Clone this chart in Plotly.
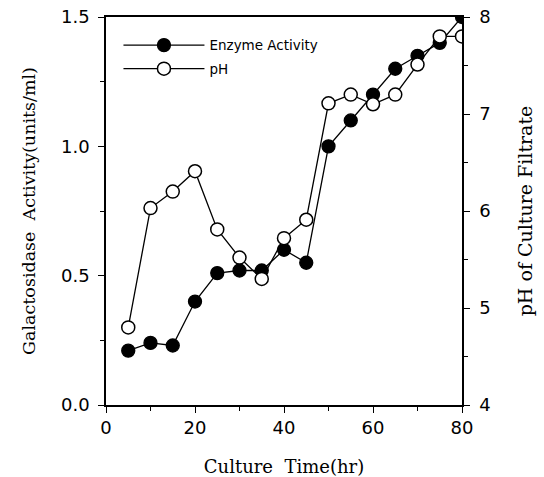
import plotly.graph_objects as go

time_hr = [5, 10, 15, 20, 25, 30, 35, 40, 45, 50, 55, 60, 65, 70, 75, 80]
enzyme_activity = [0.21, 0.24, 0.23, 0.40, 0.51, 0.52, 0.52, 0.60, 0.55, 1.00, 1.10, 1.20, 1.30, 1.35, 1.40, 1.50]
ph_values = [4.8, 6.03, 6.2, 6.41, 5.81, 5.52, 5.3, 5.72, 5.91, 7.11, 7.2, 7.1, 7.2, 7.51, 7.8, 7.8]

x_ticks = [0, 20, 40, 60, 80]
y_ticks = [0, 0.5, 1.0, 1.5]
y_tick_text = ["0.0", "0.5", "1.0", "1.5"]
ph_ticks = [4, 5, 6, 7, 8]

tick_font = dict(family="DejaVu Sans, sans-serif", size=18, color="black")
serif = "DejaVu Serif, serif"

fig = go.Figure()
fig.add_trace(go.Scatter(
    x=time_hr, y=enzyme_activity, name="Enzyme Activity", mode="lines+markers",
    legendgroup="a",
    line=dict(color="black", width=1.3),
    marker=dict(symbol="circle", size=13, color="black", line=dict(color="black", width=1.3)),
))
fig.add_trace(go.Scatter(
    x=time_hr, y=ph_values, name="pH", mode="lines+markers", yaxis="y2",
    legendgroup="b",
    line=dict(color="black", width=1.3),
    marker=dict(symbol="circle", size=13, color="white", line=dict(color="black", width=1.5)),
))

fig.update_layout(
    width=544, height=477,
    margin=dict(l=106, r=82, t=17, b=72),
    paper_bgcolor="white", plot_bgcolor="white",
    showlegend=True,
    legend=dict(x=0.035, y=0.967, xanchor="left", yanchor="top",
                bgcolor="rgba(0,0,0,0)", itemwidth=81,
                font=dict(family="DejaVu Sans, sans-serif", size=13.5, color="black"),
                tracegroupgap=3),
    xaxis=dict(range=[0, 80], tickvals=x_ticks, ticks="outside", ticklen=6,
               tickwidth=1.2, tickcolor="black", showline=True, linecolor="black", linewidth=1.5,
               mirror=True, showgrid=False, zeroline=False, tickfont=tick_font, automargin=False,
               minor=dict(tickvals=[10, 30, 50, 70], ticks="outside", ticklen=4, tickcolor="black"),
               title=dict(text="Culture  Time(hr)", font=dict(family=serif, size=18, color="black"),
                          standoff=23)),
    yaxis=dict(range=[0, 1.5], tickvals=y_ticks, ticktext=y_tick_text,
               ticks="outside", ticklen=6, tickwidth=1.2, tickcolor="black",
               showline=True, linecolor="black", linewidth=1.5, showgrid=False, zeroline=False,
               tickfont=tick_font, ticklabelstandoff=5, automargin=False,
               minor=dict(tickvals=[0.25, 0.75, 1.25], ticks="outside", ticklen=4, tickcolor="black"),
               title=dict(text="Galactosidase  Activity(units/ml)",
                          font=dict(family=serif, size=17.5, color="black"), standoff=21)),
    yaxis2=dict(range=[4, 8], tickvals=ph_ticks, overlaying="y", side="right",
                ticks="outside", ticklen=6, tickwidth=1.2, tickcolor="black",
                showline=True, linecolor="black", linewidth=1.5, showgrid=False, zeroline=False,
                tickfont=tick_font, ticklabelstandoff=6, automargin=False,
                minor=dict(tickvals=[4.5, 5.5, 6.5, 7.5], ticks="outside", ticklen=4, tickcolor="black"),
                title=dict(text="pH of Culture Filtrate", font=dict(family=serif, size=19, color="black"),
                           standoff=29)),
)

fig.write_html("out.html")
